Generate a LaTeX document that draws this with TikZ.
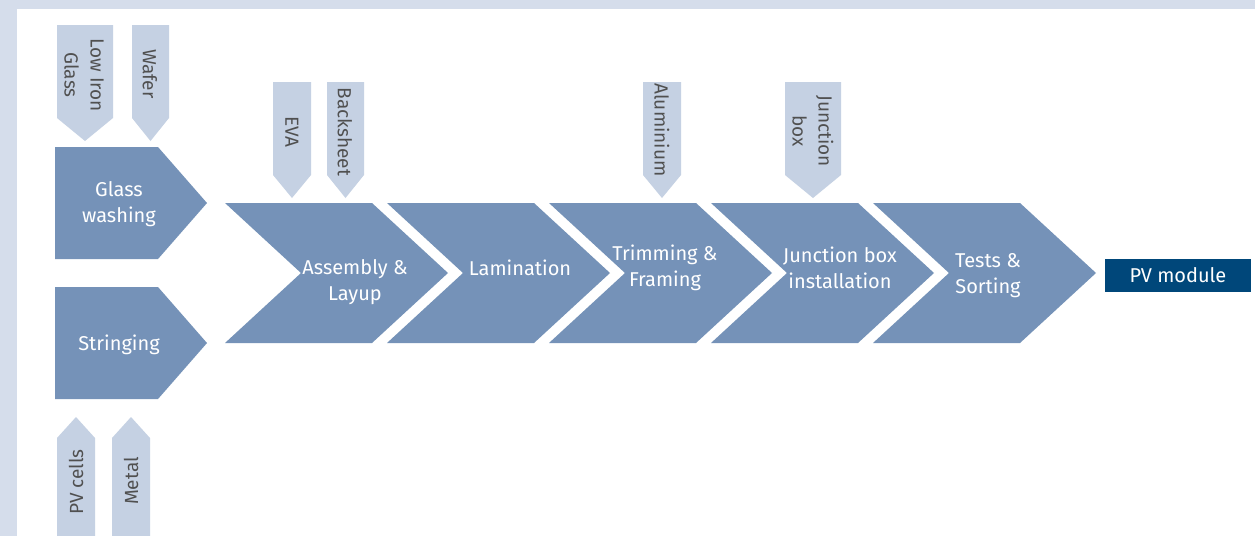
\documentclass[tikz,border=0pt]{standalone}
\usepackage{fontspec}
\setmainfont{Fira Sans}
\usepackage{xcolor}

\definecolor{frameblue}{RGB}{213,221,235}
\definecolor{procblue}{RGB}{117,146,184}
\definecolor{feedblue}{RGB}{197,209,227}
\definecolor{moduleblue}{RGB}{0,71,122}
\definecolor{feedtext}{RGB}{80,80,80}

\begin{document}
\begin{tikzpicture}[
  x=0.5pt,y=-0.5pt,
  proc/.style={fill=procblue},
  feed/.style={fill=feedblue},
  ptxt/.style={text=white,align=center,inner sep=0pt,font=\fontsize{10}{13}\selectfont},
  ftxt/.style={text=feedtext,align=center,inner sep=0pt,font=\fontsize{9.5}{13}\selectfont},
  outbox/.style={fill=moduleblue,text=white,inner sep=0pt,minimum width=73pt,minimum height=16.5pt,font=\fontsize{10}{13}\selectfont}
]
\useasboundingbox (0,0) rectangle (1255,536);
\fill[frameblue] (0,0) rectangle (1255,536);
\fill[white] (17,9) rectangle (1255,536);

% feed arrows (top, pointing down)
\foreach \xa/\xb/\ya in {57/113/25,132/169/25,273/311/82,327/364/82,643/681/82,785/841/82}
  \fill[feed] (\xa,\ya) -- (\xb,\ya) -- (\xb,\ya+93) -- ({(\xa+\xb)/2},\ya+116) -- (\xa,\ya+93) -- cycle;
% feed arrows (bottom, pointing up)
\foreach \xa/\xb in {57/95,112/150}
  \fill[feed] (\xa,536) -- (\xa,438) -- ({(\xa+\xb)/2},417) -- (\xb,438) -- (\xb,536) -- cycle;

% pre-processing
\foreach \yc in {203,343}
  \fill[proc] (55,\yc-56) -- (158,\yc-56) -- (207,\yc) -- (158,\yc+56) -- (55,\yc+56) -- cycle;
% main chevrons
\foreach \l in {225,387,549,711,873}
  \fill[proc] (\l,203) -- ++(147,0) -- ++(76,70) -- ++(-76,70) -- ++(-147,0) -- ++(76,-70) -- cycle;

\node[ftxt,rotate=-90] (lowiron) at (84,75) {Low Iron\\Glass};
\node[ftxt,rotate=-90] (wafer) at (150,74) {Wafer};
\node[ftxt,rotate=-90] (eva) at (292,132) {EVA};
\node[ftxt,rotate=-90] (backsheet) at (345,132) {Backsheet};
\node[ftxt,rotate=-90] (alu) at (662,130) {Aluminium};
\node[ftxt,rotate=-90] (jboxin) at (813,131) {Junction\\box};
\node[ftxt,rotate=90] (cells) at (76,482) {PV cells};
\node[ftxt,rotate=90] (metal) at (131,481) {Metal};

\node[ptxt] (glass) at (119,204) {Glass\\washing};
\node[ptxt] (string) at (119,345) {Stringing};
\node[ptxt] (asm) at (355,282) {Assembly \&\\Layup};
\node[ptxt] (lam) at (520,268) {Lamination};
\node[ptxt] (trim) at (665,268) {Trimming \&\\Framing};
\node[ptxt] (jbox) at (840,268) {Junction box\\installation};
\node[ptxt] (test) at (988,276) {Tests \&\\Sorting};
\node[outbox] (module) at (1178,275.5) {PV module};
\end{tikzpicture}
\end{document}
